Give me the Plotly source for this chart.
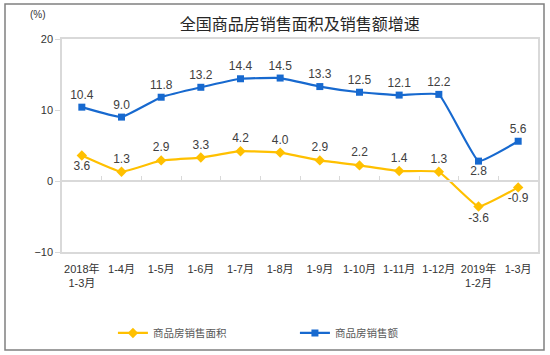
import plotly.graph_objects as go

categories = ["2018年<br>1-3月", "1-4月", "1-5月", "1-6月", "1-7月", "1-8月", "1-9月",
              "1-10月", "1-11月", "1-12月", "2019年<br>1-2月", "1-3月"]
area_growth = [3.6, 1.3, 2.9, 3.3, 4.2, 4.0, 2.9, 2.2, 1.4, 1.3, -3.6, -0.9]
sales_growth = [10.4, 9.0, 11.8, 13.2, 14.4, 14.5, 13.3, 12.5, 12.1, 12.2, 2.8, 5.6]
y_ticks = [-10, 0, 10, 20]

FONT = "Liberation Sans, Noto Sans CJK SC, sans-serif"
YELLOW = "#FFC000"
BLUE = "#1769CF"

area_pos = ["bottom center"] + ["top center"] * 9 + ["bottom center", "bottom center"]
sales_pos = ["top center"] * 10 + ["bottom center", "top center"]

fig = go.Figure()
fig.add_trace(go.Scatter(
    x=categories, y=area_growth, name="商品房销售面积", mode="lines+markers+text",
    line=dict(color=YELLOW, width=2.2, shape="spline", smoothing=0.3),
    marker=dict(symbol="diamond", size=8, color=YELLOW),
    text=[f"{v:.1f}" for v in area_growth], textposition=area_pos,
    textfont=dict(size=12, color="#404040", family=FONT),
))
fig.add_trace(go.Scatter(
    x=categories, y=sales_growth, name="商品房销售额", mode="lines+markers+text",
    line=dict(color=BLUE, width=2.2, shape="spline", smoothing=0.3),
    marker=dict(symbol="square", size=7, color=BLUE),
    text=[f"{v:.1f}" for v in sales_growth], textposition=sales_pos,
    textfont=dict(size=12, color="#404040", family=FONT),
))
# dummy trace for the zero-line axis
fig.add_trace(go.Scatter(x=categories, y=[None] * len(categories), xaxis="x2",
                         showlegend=False, hoverinfo="skip"))

fig.update_layout(
    width=550, height=355,
    margin=dict(l=62, r=12, t=39, b=103, autoexpand=False),
    paper_bgcolor="white", plot_bgcolor="white",
    font=dict(family=FONT, color="#333333"),
    title=dict(text="全国商品房销售面积及销售额增速", x=0.545, xanchor="center",
               y=0.93, yanchor="middle",
               font=dict(size=16, color="#262626", family="Noto Sans CJK SC")),
    showlegend=True,
    legend=dict(orientation="h", x=0.107, xanchor="left", y=-0.38, yanchor="middle",
                entrywidth=137, entrywidthmode="pixels",
                font=dict(size=10.5, color="#595959", family="Noto Sans CJK SC"),
                itemwidth=30),
    xaxis=dict(type="category", showgrid=False, showline=True, mirror=True,
               linecolor="#d9d9d9", linewidth=1.5, ticks="", ticklabelstandoff=6,
               tickfont=dict(size=11, color="#333333", family=FONT),
               range=[-0.5, len(categories) - 0.5]),
    xaxis2=dict(type="category", overlaying="x", matches="x", anchor="free",
                position=1 / 3, showgrid=False, showline=True, linecolor="#d9d9d9",
                linewidth=1.5, ticks="inside", ticklen=4, tickcolor="#d9d9d9",
                tickson="boundaries", showticklabels=False, side="bottom"),
    yaxis=dict(range=[-10, 20], tickvals=y_ticks, showgrid=False, zeroline=False,
               showline=True, mirror=True, linecolor="#d9d9d9", linewidth=1.5,
               ticks="outside", ticklen=5, tickcolor="#d9d9d9",
               tickfont=dict(size=11, color="#333333", family=FONT)),
    annotations=[dict(text="(%)", xref="paper", yref="paper", x=-0.05, y=1.113,
                      xanchor="center", yanchor="middle",
                      showarrow=False, font=dict(size=10, color="#333333", family=FONT))],
    shapes=[dict(type="rect", xref="paper", yref="paper",
                 x0=(5 - 62) / 476, x1=(544 - 62) / 476,
                 y0=(252 - 350) / 213, y1=(252 - 4) / 213,
                 line=dict(color="#808080", width=1.5))],
)

fig.write_html("out.html", config={"displayModeBar": False},
               post_script="document.body.style.margin='0';")
